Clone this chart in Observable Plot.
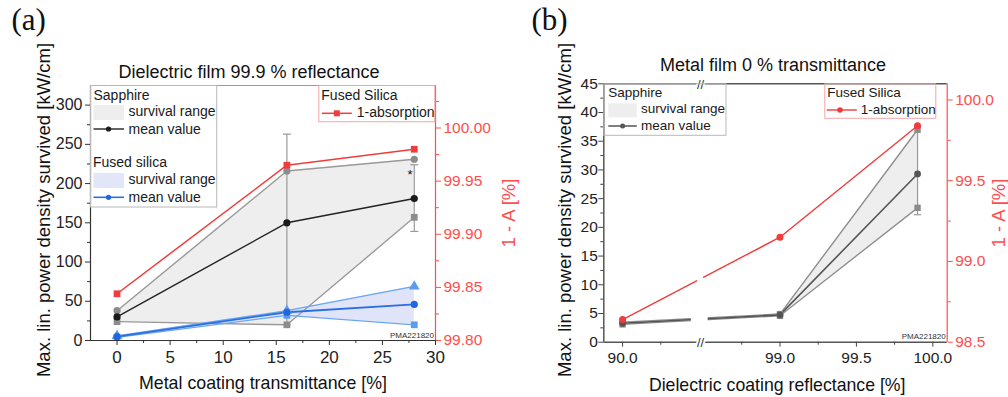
<!DOCTYPE html>
<html><head><meta charset="utf-8">
<script src="https://cdn.jsdelivr.net/npm/d3@7"></script>
<script src="https://cdn.jsdelivr.net/npm/@observablehq/plot@0.6"></script>
<style>
html,body{margin:0;padding:0;background:#fff;}
#root{position:relative;width:1008px;height:397px;overflow:hidden;font-family:"Liberation Sans",Arial,sans-serif;}
#root > svg{position:absolute;top:0;}
</style></head><body><div id="root"></div>
<script>
// ---------- Panel (a) data ----------
const aTransmittance = [0, 16, 28];
const aSapphireUpper = [38, 216, 231];
const aSapphireMean  = [30, 150, 181];
const aSapphireLower = [24, 20, 157];
const aFusedUpper = [6, 38, 69];
const aFusedMean  = [5, 36, 46];
const aFusedLower = [4, 32, 20];
const aOneMinusA  = [99.844, 99.965, 99.980];
const aErrX    = [16, 28];
const aErrLow  = [20, 139];
const aErrHigh = [263, 224];
const aStarX = [27.6];
const aStarY = [211];
const aXTicks  = [0, 5, 10, 15, 20, 25, 30];
const aXMinor  = [2.5, 7.5, 12.5, 17.5, 22.5, 27.5];
const aYTicks  = [0, 50, 100, 150, 200, 250, 300];
const aYMinor  = [25, 75, 125, 175, 225, 275];
const aY2Ticks = [99.80, 99.85, 99.90, 99.95, 100.00];
const aY2Minor = [99.825, 99.875, 99.925, 99.975, 100.025];

// ---------- Panel (b) data ----------
const bReflectance   = [90.0, 99.0, 99.9];
const bSapphireUpper = [3.5, 4.9, 37.0];
const bSapphireMean  = [3.3, 4.75, 29.3];
const bSapphireLower = [3.1, 4.6, 23.4];
const bOneMinusA     = [98.64, 99.15, 99.84];
const bErrX    = [99.9];
const bErrLow  = [22.2];
const bErrHigh = [37.5];
const bBreak   = [90.51, 98.48];
const bXTicks  = [90.0, 99.0, 99.5, 100.0];
const bXMinor  = [90.25, 98.75, 99.25, 99.75];
const bYTicks  = [0, 5, 10, 15, 20, 25, 30, 35, 40, 45];
const bYMinor  = [2.5, 7.5, 12.5, 17.5, 22.5, 27.5, 32.5, 37.5, 42.5];
const bY2Ticks = [98.5, 99.0, 99.5, 100.0];
const bY2Minor = [98.75, 99.25, 99.75];

// ---------- styling ----------
const FONT = '"Liberation Sans", Arial, sans-serif';
const RED = "#f03c3c", RED_AX = "#ff4d4d";
const st = (color) => ({background: "transparent", overflow: "visible", fontFamily: FONT, color});
const cap = {draw(ctx, size) { const r = Math.sqrt(size / Math.PI); ctx.moveTo(-r, 0); ctx.lineTo(r, 0); }};

const aRows = aTransmittance.map((x, i) => ({x, sHi: aSapphireUpper[i], sMean: aSapphireMean[i], sLo: aSapphireLower[i],
  fHi: aFusedUpper[i], fMean: aFusedMean[i], fLo: aFusedLower[i], abs: aOneMinusA[i]}));
const aErr = aErrX.map((x, i) => ({x, lo: aErrLow[i], hi: aErrHigh[i]}));
const bRows = bReflectance.map((x, i) => ({x, hi: bSapphireUpper[i], mean: bSapphireMean[i], lo: bSapphireLower[i], abs: bOneMinusA[i]}));
const bErr = bErrX.map((x, i) => ({x, lo: bErrLow[i], hi: bErrHigh[i]}));

const aGeom = {width: 530, height: 397, marginLeft: 90, marginRight: 95, marginTop: 85, marginBottom: 57};
const aXDomain = [-2.5, 30];
const aYDomain = [0, 325];
const aY2Domain = [99.80, 100.04];

const root = document.getElementById("root");
function place(svg, left) { svg.style.left = left + "px"; root.appendChild(svg); }

// ----- Panel (a) base -----
const plotA = Plot.plot({
  ...aGeom, style: st("#222"),
  x: {domain: aXDomain}, y: {domain: aYDomain},
  marks: [
    Plot.areaY(aRows, {x: "x", y1: "sLo", y2: "sHi", fill: "#eeeeee"}),
    Plot.areaY(aRows, {x: "x", y1: "fLo", y2: "fHi", fill: "#e0e4f8"}),
    Plot.ruleX(aErr, {x: "x", y1: "lo", y2: "hi", stroke: "#9a9a9a", strokeWidth: 1.2}),
    Plot.dot(aErr, {x: "x", y: "hi", symbol: cap, r: 4, stroke: "#9a9a9a", strokeWidth: 1.2}),
    Plot.dot(aErr, {x: "x", y: "lo", symbol: cap, r: 4, stroke: "#9a9a9a", strokeWidth: 1.2}),
    Plot.line(aRows, {x: "x", y: "sHi", stroke: "#9a9a9a", strokeWidth: 1.4}),
    Plot.line(aRows, {x: "x", y: "sLo", stroke: "#9a9a9a", strokeWidth: 1.4}),
    Plot.line(aRows, {x: "x", y: "sMean", stroke: "#222", strokeWidth: 1.4}),
    Plot.line(aRows, {x: "x", y: "fHi", stroke: "#6aa6f2", strokeWidth: 1.3}),
    Plot.line(aRows, {x: "x", y: "fLo", stroke: "#6aa6f2", strokeWidth: 1.3}),
    Plot.line(aRows, {x: "x", y: "fMean", stroke: "#2a6fe2", strokeWidth: 1.8}),
    Plot.dot(aRows, {x: "x", y: "sHi", r: 3.6, fill: "#8c8c8c", symbol: "circle"}),
    Plot.dot(aRows, {x: "x", y: "sLo", r: 3.8, fill: "#8c8c8c", symbol: "square"}),
    Plot.dot(aRows, {x: "x", y: "sMean", r: 3.6, fill: "#1a1a1a", symbol: "circle"}),
    Plot.dot(aRows, {x: "x", y: "fHi", r: 4, fill: "#5b9cf0", symbol: "triangle"}),
    Plot.dot(aRows, {x: "x", y: "fLo", r: 3.8, fill: "#5b9cf0", symbol: "square"}),
    Plot.dot(aRows, {x: "x", y: "fMean", r: 3.6, fill: "#1f66e0", symbol: "circle"}),
    Plot.text(aStarX.map((x, i) => ({x, y: aStarY[i]})), {x: "x", y: "y", text: () => "*", fontSize: 13, fill: "#111"}),
    Plot.ruleY([aYDomain[1]], {stroke: "#9a9a9a"}),
    Plot.ruleX([aXDomain[0]], {stroke: "#333", strokeWidth: 1.2}),
    Plot.ruleY([aYDomain[0]], {stroke: "#333", strokeWidth: 1.2}),
    Plot.axisY(aYTicks, {tickSize: 5, tickPadding: 3, fontSize: 16, label: null, stroke: "#333"}),
    Plot.axisY(aYMinor, {tickSize: 3, tickFormat: () => "", label: null, stroke: "#333"}),
    Plot.axisX(aXTicks, {tickSize: 5, tickPadding: 5, fontSize: 17, label: null, stroke: "#333"}),
    Plot.axisX(aXMinor, {tickSize: 3, tickFormat: () => "", label: null, stroke: "#333"}),
    Plot.text(["Dielectric film 99.9 % reflectance"], {text: d => d, frameAnchor: "top", dx: -14, dy: -8, lineAnchor: "bottom", textAnchor: "middle", fontSize: 18, fill: "#111"}),
    Plot.text(["Metal coating transmittance [%]"], {text: d => d, frameAnchor: "bottom", dy: 48, lineAnchor: "bottom", textAnchor: "middle", fontSize: 17.8, fill: "#111"}),
    Plot.text(["Max. lin. power density survived [kW/cm]"], {text: d => d, frameAnchor: "left", dx: -46.5, dy: -3, rotate: -90, lineAnchor: "middle", textAnchor: "middle", fontSize: 18.5, fill: "#111"}),
    Plot.text(["PMA221820"], {text: d => d, frameAnchor: "bottom-right", dx: -1.5, dy: -3, lineAnchor: "bottom", textAnchor: "end", fontSize: 8, fill: "#333"})
  ]
});
place(plotA, 0);

// ----- Panel (a) right axis overlay -----
const plotA2 = Plot.plot({
  ...aGeom, style: st(RED_AX),
  x: {domain: aXDomain, axis: null}, y: {domain: aY2Domain, axis: null},
  marks: [
    Plot.ruleX([aXDomain[1]], {stroke: RED_AX, strokeWidth: 1.2}),
    Plot.axisY(aY2Ticks, {anchor: "right", tickSize: 5, tickPadding: 3, fontSize: 15.5, label: null, tickFormat: d => d.toFixed(2)}),
    Plot.axisY(aY2Minor, {anchor: "right", tickSize: 3, tickFormat: () => "", label: null}),
    Plot.line(aRows, {x: "x", y: "abs", stroke: RED, strokeWidth: 1.5}),
    Plot.dot(aRows, {x: "x", y: "abs", r: 3.8, fill: RED, symbol: "square"}),
    Plot.text(["1 - A [%]"], {text: d => d, frameAnchor: "right", dx: 74, rotate: -90, lineAnchor: "middle", textAnchor: "middle", fontSize: 18.5, fill: RED_AX})
  ]
});
place(plotA2, 0);

// ----- Panel (b) base -----
const bGeom = {width: 508, height: 397, marginLeft: 103.3, marginRight: 61.3, marginTop: 83.3, marginBottom: 55.3};
const bXDomain = [89.877, bBreak[0], bBreak[1], 100.094];
const bXRange = [103.3, 200, 200, 446.7];
const bYDomain = [0, 45];
const bY2Domain = [98.5, 100.1];

const plotB = Plot.plot({
  ...bGeom, style: st("#222"),
  x: {type: "linear", domain: bXDomain, range: bXRange}, y: {domain: bYDomain},
  marks: [
    Plot.areaY(bRows, {x: "x", y1: "lo", y2: "hi", fill: "#eeeeee"}),
    Plot.ruleX(bErr, {x: "x", y1: "lo", y2: "hi", stroke: "#9a9a9a", strokeWidth: 1.2}),
    Plot.dot(bErr, {x: "x", y: "lo", symbol: cap, r: 3.5, stroke: "#9a9a9a", strokeWidth: 1.2}),
    Plot.dot(bErr, {x: "x", y: "hi", symbol: cap, r: 3.5, stroke: "#9a9a9a", strokeWidth: 1.2}),
    Plot.line(bRows, {x: "x", y: "hi", stroke: "#8f8f8f", strokeWidth: 1.4}),
    Plot.line(bRows, {x: "x", y: "lo", stroke: "#8f8f8f", strokeWidth: 1.4}),
    Plot.line(bRows, {x: "x", y: "mean", stroke: "#555", strokeWidth: 1.6}),
    Plot.dot(bRows, {x: "x", y: "hi", r: 3.6, fill: "#8c8c8c", symbol: "square"}),
    Plot.dot(bRows, {x: "x", y: "lo", r: 3.6, fill: "#8c8c8c", symbol: "square"}),
    Plot.dot(bRows, {x: "x", y: "mean", r: 3.4, fill: "#555", symbol: "circle"}),
    Plot.ruleY([bYDomain[1]], {stroke: "#555", strokeWidth: 1.5}),
    Plot.ruleX([bXDomain[0]], {stroke: "#555", strokeWidth: 1.5}),
    Plot.ruleY([bYDomain[0]], {stroke: "#555", strokeWidth: 1.5}),
    Plot.axisY(bYTicks, {tickSize: 5, tickPadding: 1, fontSize: 15.5, label: null, stroke: "#444"}),
    Plot.axisY(bYMinor, {tickSize: 3, tickFormat: () => "", label: null, stroke: "#444"}),
    Plot.axisX(bXTicks, {tickSize: 5, tickPadding: 5, fontSize: 15.5, label: null, stroke: "#444", tickFormat: d => d.toFixed(1)}),
    Plot.axisX(bXMinor, {tickSize: 3, tickFormat: () => "", label: null, stroke: "#444"}),
    Plot.text([bBreak[0]], {x: d => d, frameAnchor: "bottom", text: () => "//", fontSize: 13, fill: "#333", stroke: "white", strokeWidth: 4, lineAnchor: "middle", dy: 1}),
    Plot.text([bBreak[0]], {x: d => d, frameAnchor: "top", text: () => "//", fontSize: 13, fill: "#333", stroke: "white", strokeWidth: 4, lineAnchor: "middle", dy: 1}),
    Plot.text(["Metal film 0 % transmittance"], {text: d => d, frameAnchor: "top", dx: -2.5, dy: -13.3, lineAnchor: "bottom", textAnchor: "middle", fontSize: 18, fill: "#111"}),
    Plot.text(["Dielectric coating reflectance [%]"], {text: d => d, frameAnchor: "bottom", dx: 1.7, dy: 48.3, lineAnchor: "bottom", textAnchor: "middle", fontSize: 17.7, fill: "#111"}),
    Plot.text(["Max. lin. power density survived [kW/cm]"], {text: d => d, frameAnchor: "left", dx: -38.3, dy: -3, rotate: -90, lineAnchor: "middle", textAnchor: "middle", fontSize: 18.5, fill: "#111"}),
    Plot.text(["PMA221820"], {text: d => d, frameAnchor: "bottom-right", dx: -1.5, dy: -3, lineAnchor: "bottom", textAnchor: "end", fontSize: 8, fill: "#333"})
  ]
});
place(plotB, 500);

// ----- Panel (b) right axis overlay -----
const plotB2 = Plot.plot({
  ...bGeom, style: st(RED_AX),
  x: {type: "linear", domain: bXDomain, range: bXRange, axis: null}, y: {domain: bY2Domain, axis: null},
  marks: [
    Plot.ruleX([bXDomain[3]], {stroke: RED_AX, strokeWidth: 1.2}),
    Plot.axisY(bY2Ticks, {anchor: "right", tickSize: 5, tickPadding: 3, fontSize: 15.5, label: null, tickFormat: d => d.toFixed(1)}),
    Plot.axisY(bY2Minor, {anchor: "right", tickSize: 3, tickFormat: () => "", label: null}),
    Plot.line(bRows, {x: "x", y: "abs", stroke: RED, strokeWidth: 1.4}),
    // gaps in the lines where the x axis is broken (wider for the gray lines, narrow for the red one)
    Plot.rect([{x1: bBreak[0] - 0.06, x2: bBreak[1] + 0.05, y1: 98.55, y2: 98.74}], {x1: "x1", x2: "x2", y1: "y1", y2: "y2", fill: "white"}),
    Plot.rect([{x1: bBreak[0] - 0.02, x2: bBreak[1] + 0.02, y1: 98.78, y2: 99.02}], {x1: "x1", x2: "x2", y1: "y1", y2: "y2", fill: "white"}),
    Plot.dot(bRows, {x: "x", y: "abs", r: 3.5, fill: RED, symbol: "circle"}),
    Plot.text(["1 - A [%]"], {text: d => d, frameAnchor: "right", dx: 52.3, rotate: -90, lineAnchor: "middle", textAnchor: "middle", fontSize: 18.5, fill: RED_AX})
  ]
});
place(plotB2, 500);

// ----- Legends and panel letters -----
const ns = "http://www.w3.org/2000/svg";
const deco = document.createElementNS(ns, "svg");
deco.setAttribute("width", 1008); deco.setAttribute("height", 397);
deco.style.left = "0px";
deco.innerHTML = `
<g font-family='"Liberation Serif","Times New Roman",serif' font-size="31" fill="#111">
  <text x="11.5" y="30">(a)</text>
  <text x="531.5" y="30">(b)</text>
</g>
<g font-family='${FONT}' font-size="14" fill="#1a1a1a">
  <g transform="translate(90,85)">
    <rect x="0.5" y="0.5" width="126.2" height="121.5" fill="none" stroke="#b8b8b8"/>
    <text x="3.5" y="15">Sapphire</text>
    <rect x="3.5" y="20" width="30.5" height="15" fill="#eeeeee"/>
    <text x="38.5" y="31">survival range</text>
    <line x1="3.5" x2="34" y1="44" y2="44" stroke="#222" stroke-width="1.4"/>
    <circle cx="18.5" cy="44" r="2.6" fill="#1a1a1a"/>
    <text x="38.5" y="48.5">mean value</text>
    <text x="3" y="82">Fused silica</text>
    <rect x="3.5" y="88" width="30.5" height="15" fill="#e3e6f8"/>
    <text x="38.5" y="98.5">survival range</text>
    <line x1="3.5" x2="34" y1="112.3" y2="112.3" stroke="#2a6fe2" stroke-width="1.6"/>
    <circle cx="18.5" cy="112.3" r="2.6" fill="#1f66e0"/>
    <text x="38.5" y="117">mean value</text>
  </g>
  <g transform="translate(318.3,85)">
    <rect x="0.5" y="0.5" width="116" height="36.2" fill="none" stroke="#f6a5a5"/>
    <text x="3" y="15">Fused Silica</text>
    <line x1="3.5" x2="33.5" y1="28.3" y2="28.3" stroke="${RED}" stroke-width="1.5"/>
    <rect x="15.5" y="25.3" width="6" height="6" fill="${RED}"/>
    <text x="38.5" y="32">1-absorption</text>
  </g>
</g>
<g font-family='${FONT}' font-size="13.5" fill="#1a1a1a">
  <g transform="translate(603.3,83.3)">
    <rect x="0.5" y="0.5" width="122.2" height="51.5" fill="none" stroke="#b8b8b8"/>
    <text x="5" y="13.5">Sapphire</text>
    <rect x="5" y="20" width="28.5" height="14" fill="#eeeeee"/>
    <text x="37.7" y="30">survival range</text>
    <line x1="5" x2="33.5" y1="42.7" y2="42.7" stroke="#555" stroke-width="1.5"/>
    <circle cx="19.3" cy="42.7" r="2.5" fill="#555"/>
    <text x="37.7" y="47">mean value</text>
  </g>
  <g transform="translate(824.3,83.3)">
    <rect x="0.5" y="0.5" width="111" height="34.5" fill="none" stroke="#f6a5a5"/>
    <text x="3" y="13.5">Fused Silica</text>
    <line x1="2.5" x2="32.5" y1="26.7" y2="26.7" stroke="${RED}" stroke-width="1.4"/>
    <circle cx="15.7" cy="26.7" r="2.8" fill="${RED}"/>
    <text x="36.5" y="30.5">1-absorption</text>
  </g>
</g>`;
root.appendChild(deco);
</script></body></html>
